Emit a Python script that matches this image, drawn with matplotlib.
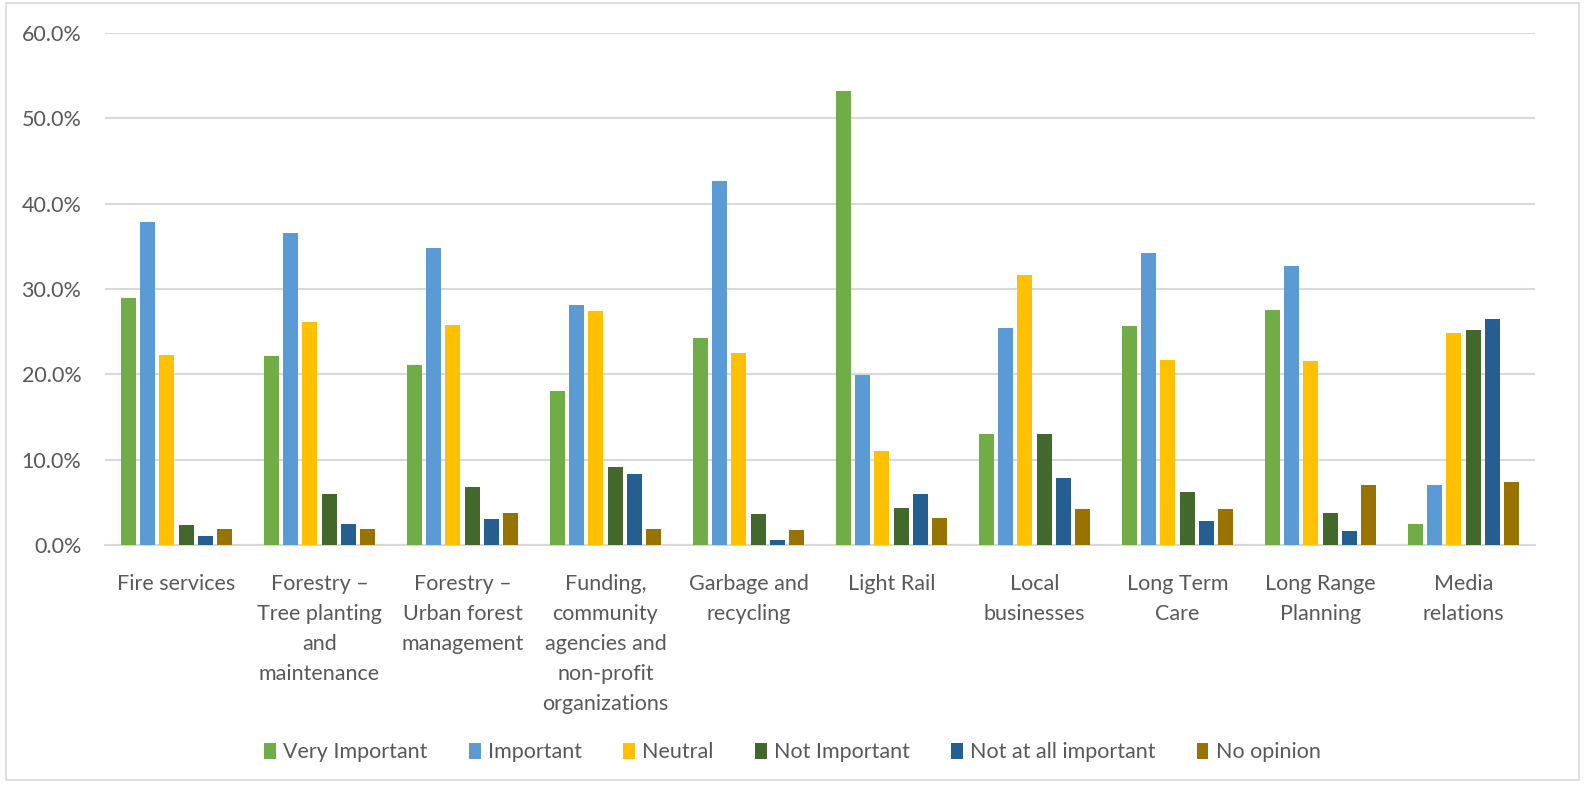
import matplotlib.pyplot as plt
import numpy as np
from matplotlib.patches import Rectangle
from matplotlib.ticker import PercentFormatter

categories = [
    "Fire services",
    "Forestry –\nTree planting\nand\nmaintenance",
    "Forestry –\nUrban forest\nmanagement",
    "Funding,\ncommunity\nagencies and\nnon-profit\norganizations",
    "Garbage and\nrecycling",
    "Light Rail",
    "Local\nbusinesses",
    "Long Term\nCare",
    "Long Range\nPlanning",
    "Media\nrelations",
]
series_names = ["Very Important", "Important", "Neutral", "Not Important",
                "Not at all important", "No opinion"]
very_important = [28.9, 22.1, 21.1, 18.0, 24.2, 53.2, 13.0, 25.7, 27.5, 2.5]
important = [37.9, 36.6, 34.8, 28.1, 42.7, 19.9, 25.4, 34.2, 32.7, 7.0]
neutral = [22.3, 26.1, 25.8, 27.4, 22.5, 11.0, 31.6, 21.7, 21.6, 24.9]
not_important = [2.4, 6.0, 6.8, 9.2, 3.6, 4.3, 13.0, 6.2, 3.7, 25.2]
not_at_all = [1.1, 2.5, 3.0, 8.3, 0.6, 6.0, 7.9, 2.8, 1.6, 26.5]
no_opinion = [1.9, 1.9, 3.7, 1.9, 1.8, 3.2, 4.2, 4.2, 7.0, 7.4]
colors = ["#70AD47", "#5B9BD5", "#FFC000", "#43682B", "#255E91", "#997300"]

plt.rcParams['font.family'] = ['Lato', 'DejaVu Sans']

fig = plt.figure(figsize=(15.85, 7.85), dpi=100)
ax = fig.add_axes([0.0662, 0.3057, 0.9023, 0.6523])

# chart border
fig.patches.append(Rectangle((0.004, 0.006), 0.992, 0.99, transform=fig.transFigure,
                             fill=False, edgecolor="#D9D9D9", linewidth=1.2))

x = np.arange(len(categories))
slot = 0.135
width = 0.105
all_series = [very_important, important, neutral, not_important, not_at_all, no_opinion]
for i, (vals, name, col) in enumerate(zip(all_series, series_names, colors)):
    ax.bar(x + (i - 2.5) * slot, vals, width, color=col, label=name, zorder=3)

ax.set_xlim(-0.5, len(categories) - 0.5)
ax.set_ylim(0, 60)
ax.set_yticks(np.arange(0, 61, 10))
ax.yaxis.set_major_formatter(PercentFormatter(decimals=1))
ax.grid(axis='y', color="#D9D9D9", linewidth=1.5, zorder=0)
for s in ["top", "right", "left"]:
    ax.spines[s].set_visible(False)
ax.spines["bottom"].set_color("#D9D9D9")
ax.spines["bottom"].set_linewidth(1.5)
ax.tick_params(axis='both', length=0, colors="#595959", labelsize=15.5)
ax.tick_params(axis='y', pad=17)
ax.tick_params(axis='x', pad=21)
ax.set_xticks(x)
ax.set_xticklabels(categories, linespacing=1.62, va='top')

ax.legend(loc='center', bbox_to_anchor=(0.5, 0.0415), bbox_transform=fig.transFigure,
          ncol=6, frameon=False, fontsize=15.5, handlelength=0.55, handleheight=0.8,
          handletextpad=0.35, columnspacing=1.9, labelcolor="#595959")

fig.savefig("out.png", dpi=100)
